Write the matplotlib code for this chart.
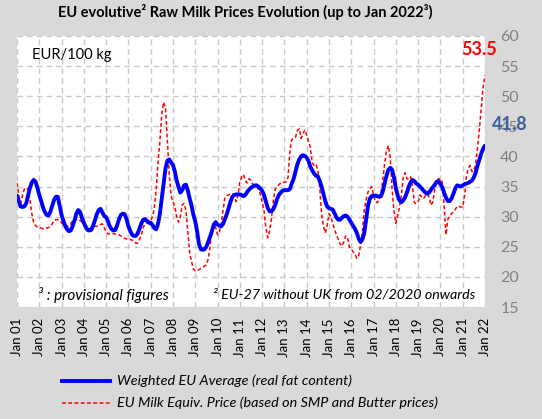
import matplotlib
matplotlib.use("Agg")
import matplotlib.pyplot as plt
from matplotlib.lines import Line2D
import pandas as pd
import numpy as np

plt.rcParams['font.family'] = ['Lato', 'DejaVu Sans']

# Monthly values Jan 2001 .. Jan 2022 (EUR/100 kg)
weighted_eu_avg = [
    33.5, 32.5, 31.7, 31.6, 31.7, 32.2, 33.5, 34.8, 35.7, 36.1, 35.8, 34.8,   # 2001
    33.6, 32.6, 31.6, 30.8, 30.3, 30.2, 30.8, 31.8, 32.8, 33.3, 33.3, 31.8,   # 2002
    30.3, 29.3, 28.5, 27.9, 27.6, 27.7, 28.4, 29.4, 30.5, 31.1, 30.8, 29.8,   # 2003
    29.0, 28.3, 27.8, 27.7, 27.8, 28.5, 29.4, 30.4, 31.1, 31.3, 30.7, 30.1,   # 2004
    29.9, 29.2, 28.4, 27.9, 27.7, 27.8, 28.6, 29.6, 30.3, 30.5, 30.4, 29.6,   # 2005
    28.4, 27.6, 27.0, 26.8, 26.8, 27.2, 28.0, 28.9, 29.5, 29.6, 29.3, 29.0,   # 2006
    29.0, 28.6, 28.1, 27.9, 28.8, 30.5, 33.0, 35.5, 38.0, 39.3, 39.5, 39.0,   # 2007
    38.6, 37.5, 36.0, 35.0, 34.0, 34.4, 35.2, 35.3, 34.3, 33.0, 31.8, 30.3,   # 2008
    29.2, 27.5, 25.5, 24.6, 24.5, 24.6, 25.0, 25.8, 26.7, 27.6, 28.7, 29.1,   # 2009
    28.7, 28.5, 28.4, 28.8, 29.6, 30.4, 31.4, 32.5, 33.3, 33.6, 33.7, 33.7,   # 2010
    33.7, 33.6, 33.4, 33.6, 34.1, 34.5, 34.8, 35.0, 35.2, 35.2, 35.0, 34.7,   # 2011
    34.3, 33.6, 32.6, 31.5, 30.9, 30.9, 31.2, 31.9, 32.9, 33.6, 34.0, 34.3,   # 2012
    34.4, 34.4, 34.4, 34.6, 35.5, 36.3, 37.5, 38.7, 39.5, 40.0, 40.2, 40.1,   # 2013
    39.8, 39.2, 38.3, 37.7, 37.2, 36.8, 36.7, 36.0, 35.0, 33.8, 32.6, 31.7,   # 2014
    31.4, 31.3, 31.2, 30.6, 29.9, 29.5, 29.5, 29.8, 30.1, 30.2, 30.0, 29.5,   # 2015
    29.0, 28.5, 28.0, 27.3, 26.4, 25.8, 26.2, 27.3, 29.5, 31.8, 33.0, 33.4,   # 2016
    33.5, 33.5, 33.4, 33.3, 33.4, 34.2, 35.5, 36.8, 37.8, 38.1, 37.8, 36.5,   # 2017
    34.7, 33.5, 32.7, 32.4, 32.7, 33.2, 34.0, 35.0, 35.7, 36.1, 35.9, 35.5,   # 2018
    35.3, 35.0, 34.7, 34.3, 34.0, 33.8, 34.0, 34.5, 34.9, 35.3, 35.8, 35.9,   # 2019
    35.4, 34.9, 34.0, 33.2, 32.6, 32.6, 33.0, 33.8, 34.7, 35.2, 35.1, 35.0,   # 2020
    35.2, 35.4, 35.5, 35.6, 35.8, 36.0, 36.5, 37.3, 38.5, 39.5, 40.5, 41.3,   # 2021
    41.8,                                                                     # 2022
]

milk_equiv_price = [
    35.6, 33.5, 32.3, 33.5, 34.6, 34.8, 34.5, 32.8, 30.5, 29.0, 28.5, 28.3,   # 2001
    28.2, 28.1, 28.0, 28.0, 28.1, 28.2, 28.4, 28.8, 29.3, 29.5, 29.5, 29.4,   # 2002
    29.0, 28.6, 28.5, 28.4, 28.4, 28.8, 29.4, 29.6, 29.5, 29.3, 29.4, 29.1,   # 2003
    28.8, 28.6, 28.3, 28.0, 28.0, 28.2, 28.4, 28.4, 28.5, 28.7, 28.8, 28.2,   # 2004
    27.5, 27.1, 27.2, 27.2, 27.2, 27.1, 27.1, 27.0, 26.8, 26.6, 26.4, 26.3,   # 2005
    26.2, 26.2, 26.1, 26.0, 25.6, 25.6, 26.2, 27.0, 28.2, 28.9, 29.0, 29.1,   # 2006
    29.4, 30.0, 31.5, 34.5, 39.0, 42.5, 47.0, 49.0, 48.0, 42.5, 37.0, 33.5,   # 2007
    32.5, 31.6, 30.0, 29.1, 30.0, 32.0, 32.2, 31.0, 27.5, 24.0, 22.5, 21.3,   # 2008
    21.0, 21.0, 21.2, 21.4, 21.6, 21.8, 22.0, 23.0, 25.0, 28.0, 29.0, 28.2,   # 2009
    27.0, 27.5, 28.8, 31.0, 33.2, 33.5, 33.6, 33.8, 33.8, 33.5, 32.5, 33.5,   # 2010
    35.8, 36.6, 37.0, 36.0, 35.6, 36.3, 36.0, 35.4, 35.2, 35.1, 34.5, 33.8,   # 2011
    32.5, 31.0, 28.3, 26.5, 27.5, 29.5, 32.5, 34.5, 35.0, 35.3, 35.6, 35.7,   # 2012
    35.7, 35.8, 36.5, 41.0, 42.8, 43.0, 43.2, 44.3, 44.6, 43.0, 43.8, 44.4,   # 2013
    43.6, 42.5, 41.5, 39.0, 38.5, 38.7, 37.8, 35.0, 30.5, 28.5, 27.3, 28.5,   # 2014
    30.5, 30.0, 28.9, 28.0, 27.0, 26.3, 25.5, 25.1, 25.8, 26.8, 26.5, 25.0,   # 2015
    24.6, 24.2, 23.8, 23.1, 23.5, 25.2, 27.5, 31.0, 32.8, 34.1, 34.6, 35.0,   # 2016
    33.6, 32.5, 32.3, 32.8, 33.8, 36.0, 38.8, 41.0, 41.8, 39.8, 34.5, 31.0,   # 2017
    28.9, 30.2, 31.6, 33.5, 36.5, 37.3, 36.3, 36.2, 36.6, 35.0, 32.3, 32.2,   # 2018
    32.4, 33.6, 33.3, 33.0, 33.5, 33.8, 33.2, 31.9, 32.5, 34.7, 35.8, 36.3,   # 2019
    36.3, 35.7, 32.0, 27.0, 29.5, 30.2, 30.5, 30.8, 31.2, 31.7, 31.7, 31.6,   # 2020
    31.6, 33.5, 36.5, 38.0, 38.5, 37.5, 37.6, 38.8, 41.5, 44.5, 48.0, 51.5,   # 2021
    53.5,                                                                     # 2022
]

start_month = "2001-01"
tick_years = list(range(2001, 2023))
tick_labels = [f"Jan {y % 100:02d}" for y in tick_years]
y_ticks = [15, 20, 25, 30, 35, 40, 45, 50, 55, 60]

series_labels = ["Weighted EU Average (real fat content)",
                 "EU Milk Equiv. Price (based on SMP and Butter prices)"]

dates = pd.date_range(start_month, periods=len(weighted_eu_avg), freq="MS")
tick_dates = pd.to_datetime([f"{y}-01-01" for y in tick_years])

W, H = 542, 419
fig = plt.figure(figsize=(W / 100, H / 100), dpi=100, facecolor="#d9d9d9")
ax = fig.add_axes([17 / W, 1 - 307 / H, (485 - 17) / W, (307 - 36) / H])
ax.set_facecolor("white")

ax.plot(dates, milk_equiv_price, color="#ff0000", lw=1.1, ls=(0, (2.5, 1.6)), zorder=3)
ax.plot(dates, weighted_eu_avg, color="#0000ff", lw=2.8, zorder=4, solid_capstyle="round")

ax.set_xlim(dates[0], dates[-1])
ax.set_ylim(15, 60)
ax.set_xticks(tick_dates)
ax.set_xticklabels(tick_labels, rotation=90, fontsize=9.5, color="black")
ax.set_yticks(y_ticks)
ax.yaxis.tick_right()
ax.tick_params(axis="y", length=0, pad=11, labelsize=11.5, labelcolor="#808080")
ax.tick_params(axis="x", length=0, pad=8)
for lab in ax.get_yticklabels():
    lab.set_horizontalalignment("left")
ax.grid(True, color="#c8c8c8", ls=(0, (4, 3)), lw=1.0)
for s in ax.spines.values():
    s.set_visible(False)
ax.set_axisbelow(True)

# Title and texts
fig.text(245 / W, 1 - 12 / H, "EU evolutive² Raw Milk Prices Evolution (up to Jan 2022³)",
         ha="center", va="center", fontsize=10.5, fontweight="bold")
fig.text(32 / W, 1 - 55 / H, "EUR/100 kg", ha="left", va="center", fontsize=10.5)
ax.annotate(f"{milk_equiv_price[-1]:.1f}", xy=(dates[-1], milk_equiv_price[-1]),
            xytext=(-4, 12), textcoords="offset points", ha="center", va="bottom",
            color="#ff0000", fontsize=13, fontweight="bold")
ax.annotate(f"{weighted_eu_avg[-1]:.1f}", xy=(dates[-1], weighted_eu_avg[-1]),
            xytext=(18, 9), textcoords="offset points", ha="center", va="bottom",
            color="#3a5f9c", fontsize=13, fontweight="bold")
fig.text(38 / W, 1 - 295 / H, "³ : provisional figures", ha="left", va="center",
         fontsize=11, style="italic")
fig.text(213 / W, 1 - 295 / H, "² EU-27 without UK from 02/2020 onwards", ha="left",
         va="center", fontsize=10.3, style="italic")

# Legend (manual)
fig.add_artist(Line2D([62 / W, 110 / W], [1 - 381 / H, 1 - 381 / H], color="#0000ff", lw=2.8))
fig.add_artist(Line2D([62 / W, 110 / W], [1 - 403 / H, 1 - 403 / H], color="#ff0000",
                      lw=1.1, ls=(0, (2.5, 1.6))))
fig.text(117 / W, 1 - 381 / H, series_labels[0], ha="left", va="center", fontsize=10.4, style="italic")
fig.text(117 / W, 1 - 403 / H, series_labels[1], ha="left", va="center", fontsize=10.4, style="italic")

fig.savefig("out.png", dpi=100, facecolor=fig.get_facecolor())
